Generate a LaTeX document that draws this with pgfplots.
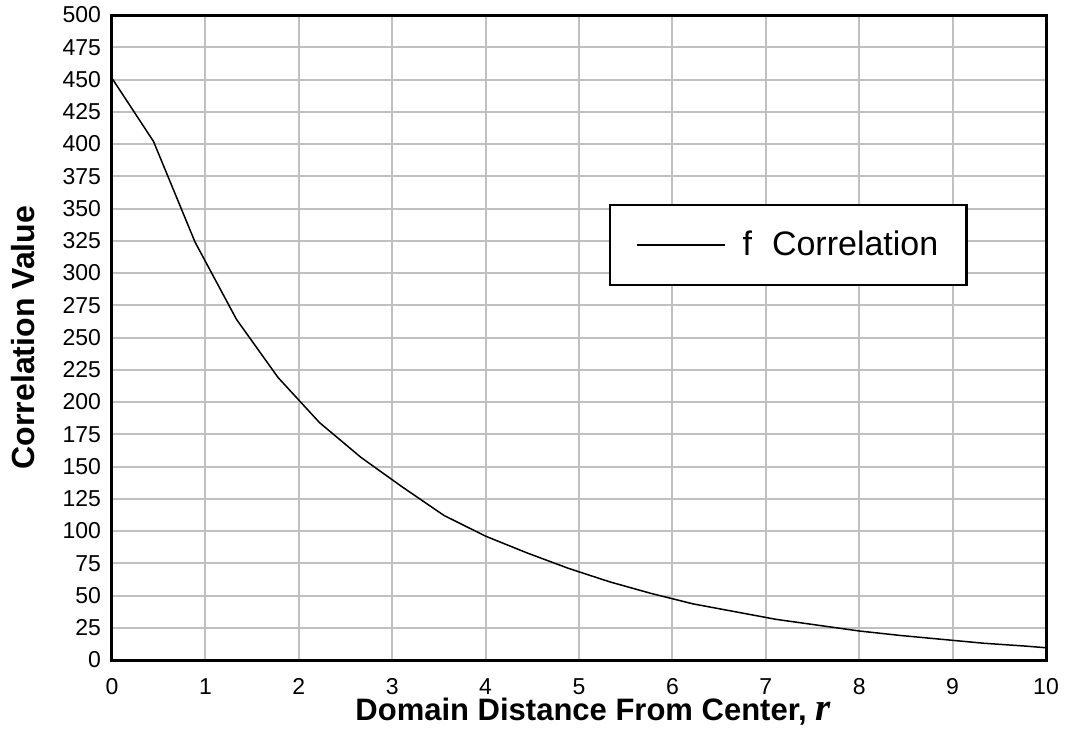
\documentclass[border=0pt]{standalone}
\usepackage{pgfplots}
\pgfplotsset{compat=1.18}
\usepackage{fontspec}
\setmainfont{Liberation Sans}
\newfontfamily\timesbi{Liberation Serif}
\definecolor{gridc}{RGB}{192,192,192}

\begin{document}
\begin{tikzpicture}
\useasboundingbox (-56pt,-40pt) rectangle (478pt,330pt);
\begin{axis}[
  at={(0pt,0pt)},anchor=south west,
  scale only axis,width=467pt,height=322.5pt,
  xmin=0,xmax=10,ymin=0,ymax=500,
  xtick={0,1,...,10},ytick={0,25,...,500},
  major tick length=0pt,
  grid=major,grid style={gridc,line width=1pt},
  axis line style={black,line width=1.5pt},
  /pgf/number format/assume math mode=true,
  tick label style={font=\fontsize{11.5}{12}\selectfont},
  yticklabel style={xshift=-2pt},
  xticklabel style={anchor=north,text height=8.5pt,text depth=0pt,yshift=-5pt},
  xlabel={\fontsize{15.5}{16}\selectfont\bfseries Domain Distance From Center, {\timesbi\fontsize{19.5}{20}\selectfont\bfseries\itshape r}},
  xlabel style={at={(rel axis cs:0.5,0)},anchor=center,yshift=-26pt,xshift=7pt},
  ylabel={\fontsize{16}{17}\selectfont\bfseries Correlation Value},
  ylabel style={at={(axis description cs:-0.0953,0.5)},anchor=center},
  legend style={at={(0.532,0.707)},anchor=north west,draw=black,line width=1.2pt,
    inner xsep=13pt,inner ysep=13pt,nodes={inner sep=0pt},
    font=\fontsize{17}{18}\selectfont},
  legend image code/.code={\draw[black,line width=0.75pt] (0pt,0pt) -- (44pt,0pt);},
]
\addplot[black,line width=0.75pt] coordinates {
  (0,451) (0.4444,402) (0.8889,324) (1.3333,264) (1.7778,219) (2.2222,184)
  (2.6667,157) (3.1111,134) (3.5556,112) (4.0,96) (4.4444,83) (4.8889,71)
  (5.3333,60.5) (5.7778,51.5) (6.2222,43.5) (6.6667,37.5) (7.1111,31.5)
  (7.5556,27) (8.0,22.5) (8.4444,19) (8.8889,16) (9.3333,13) (9.7778,10.8) (10,9.5)
};
\addlegendentry{\hspace*{8.5pt}f\hspace{10pt}Correlation\hspace*{1pt}}
\end{axis}
\end{tikzpicture}
\end{document}
